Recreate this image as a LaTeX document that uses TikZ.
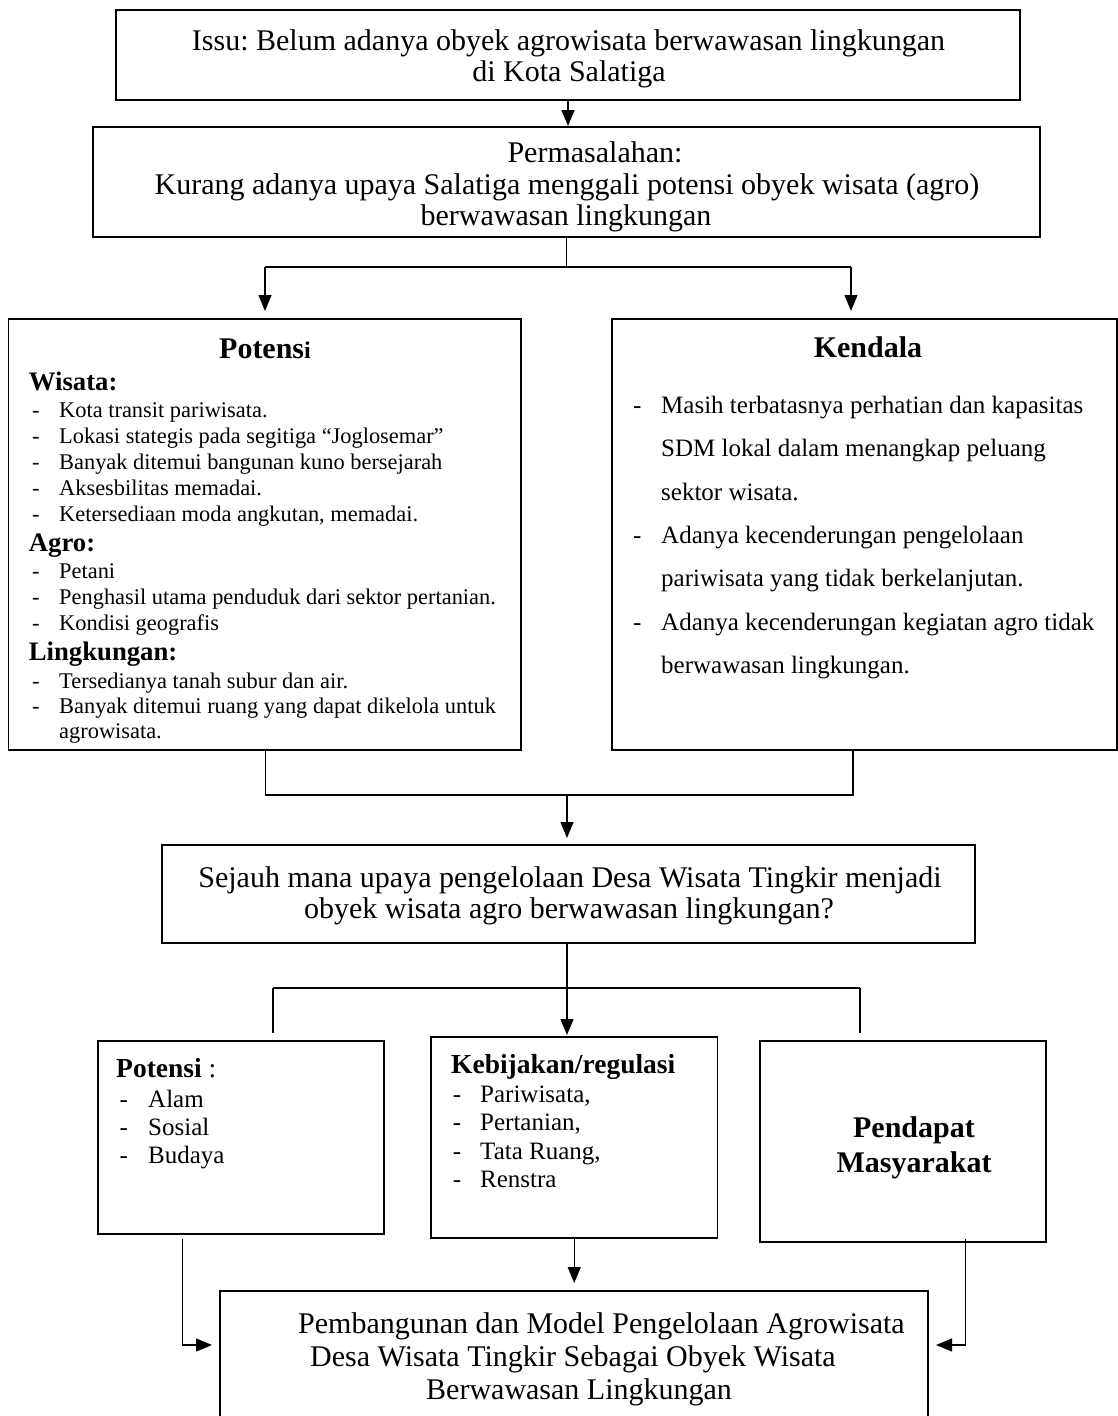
\documentclass[tikz,border=0pt]{standalone}
\usepackage{fontspec}
\setmainfont{Liberation Serif}
\usetikzlibrary{arrows.meta}
\newcommand\fs[1]{\fontsize{#1}{#1}\selectfont}
\frenchspacing
\begin{document}
\begin{tikzpicture}[x=1pt,y=-1pt,
  box/.style={draw, line width=1.8pt, inner sep=0pt, outer sep=0pt, anchor=north west},
  conn/.style={line width=1.2pt},
  arr/.style={line width=1.2pt, -{Triangle[length=16pt,width=13pt]}},
  t/.style={inner sep=0pt, anchor=base},
  tw/.style={inner sep=0pt, anchor=base west}]
\clip (0,0) rectangle (1118,1416);
\fill[white] (0,0) rectangle (1118,1416);

% boxes
\node[box, minimum width=904pt, minimum height=90pt] (issu) at (116,10) {};
\node[box, minimum width=947pt, minimum height=110pt] (masalah) at (93,127) {};
\node[box, minimum width=512.5pt, minimum height=431pt] (potensi) at (8.5,319) {};
\node[box, minimum width=505pt, minimum height=431pt] (kendala) at (612,319) {};
\node[box, minimum width=813pt, minimum height=98pt] (tanya) at (162,845) {};
\node[box, minimum width=286pt, minimum height=193pt] (pot2) at (98,1041) {};
\node[box, minimum width=286.5pt, minimum height=201pt] (kebijakan) at (431,1037) {};
\node[box, minimum width=286pt, minimum height=201pt] (pendapat) at (760,1041) {};
\node[box, minimum width=708pt, minimum height=160pt] (final) at (220,1291) {};

% texts: issu
\node[t] (issu1) at (568.5,50) {\fs{30}Issu: Belum adanya obyek agrowisata berwawasan lingkungan};
\node[t] (issu2) at (569,81) {\fs{30}di Kota Salatiga};
% masalah
\node[t] (mas1) at (595,162) {\fs{30}Permasalahan:};
\node[t] (mas2) at (567,194) {\fs{30}Kurang adanya upaya Salatiga menggali potensi obyek wisata (agro)};
\begin{scope}
\clip (masalah.north west) rectangle (masalah.south east);
\node[t] (mas3) at (566,225) {\fs{30}berwawasan lingkungan};
\end{scope}

% potensi big
\node[t] (potT) at (265,358) {\fs{30}\bfseries Potens{\fs{24}i}};
\node[tw] (wis) at (28.7,390) {\fs{26.7}\bfseries Wisata:};
\foreach \y/\s [count=\i] in {417/Kota transit pariwisata.,
  443/Lokasi stategis pada segitiga “Joglosemar”,
  469/Banyak ditemui bangunan kuno bersejarah,
  495/Aksesbilitas memadai.,
  521/{Ketersediaan moda angkutan, memadai.}}{
  \node[tw] (wd\i) at (32,\y) {\fs{22.4}-};
  \node[tw] (wi\i) at (59,\y) {\fs{22.4}\s};
}
\node[tw] (agr) at (28.7,551.7) {\fs{26.7}\bfseries Agro:};
\foreach \y/\s [count=\i] in {578/Petani,
  604/Penghasil utama penduduk dari sektor pertanian.,
  630/Kondisi geografis}{
  \node[tw] (ad\i) at (32,\y) {\fs{22.4}-};
  \node[tw] (ai\i) at (59,\y) {\fs{22.4}\s};
}
\node[tw] (lin) at (28.7,660) {\fs{26.7}\bfseries Lingkungan:};
\node[tw] (ld1) at (32,688) {\fs{22.4}-};
\node[tw] (li1) at (59,688) {\fs{22.4}Tersedianya tanah subur dan air.};
\node[tw] (ld2) at (32,713) {\fs{22.4}-};
\node[tw] (li2) at (59,713) {\fs{22.4}Banyak ditemui ruang yang dapat dikelola untuk};
\begin{scope}
\clip (potensi.north west) rectangle (potensi.south east);
\node[tw] (li3) at (59,738) {\fs{22.4}agrowisata.};
\end{scope}

% kendala
\node[t] (kenT) at (868,357) {\fs{30}\bfseries Kendala};
\node[tw] (kd1) at (633,413) {\fs{25}-};
\node[tw] (ki1) at (661,413) {\fs{25}Masih terbatasnya perhatian dan kapasitas};
\node[tw] (ki2) at (661,456.5) {\fs{25}SDM lokal dalam menangkap peluang};
\node[tw] (ki3) at (661,500) {\fs{25}sektor wisata.};
\node[tw] (kd2) at (633,543) {\fs{25}-};
\node[tw] (ki4) at (661,543) {\fs{25}Adanya kecenderungan pengelolaan};
\node[tw] (ki5) at (661,586.5) {\fs{25}pariwisata yang tidak berkelanjutan.};
\node[tw] (kd3) at (633,630) {\fs{25}-};
\node[tw] (ki6) at (661,630) {\fs{25}Adanya kecenderungan kegiatan agro tidak};
\node[tw] (ki7) at (661,673) {\fs{25}berwawasan lingkungan.};

% tanya
\node[t] (tan1) at (570,887) {\fs{30}Sejauh mana upaya pengelolaan Desa Wisata Tingkir menjadi};
\node[t] (tan2) at (569,918) {\fs{30}obyek wisata agro berwawasan lingkungan?};

% potensi small
\node[tw] (p2T) at (116,1077) {\fs{27.5}{\bfseries Potensi} :};
\foreach \y/\s [count=\i] in {1107/Alam,1135/Sosial,1163/Budaya}{
  \node[tw] (pd\i) at (119.5,\y) {\fs{25}-};
  \node[tw] (pi\i) at (148,\y) {\fs{25}\s};
}
% kebijakan
\node[tw] (kbT) at (451,1073) {\fs{27.5}\bfseries Kebijakan/regulasi};
\foreach \y/\s [count=\i] in {1102/{Pariwisata,},1130.5/{Pertanian,},1159/{Tata Ruang,},1187.5/Renstra}{
  \node[tw] (bd\i) at (452.6,\y) {\fs{25}-};
  \node[tw] (bi\i) at (480,\y) {\fs{25}\s};
}
% pendapat
\node[t] (pe1) at (914,1137) {\fs{30}\bfseries Pendapat};
\node[t] (pe2) at (914,1172) {\fs{30}\bfseries Masyarakat};
% final
\node[tw] (fi1) at (298,1333) {\fs{30}Pembangunan dan Model Pengelolaan Agrowisata};
\node[tw] (fi2) at (310,1366) {\fs{30}Desa Wisata Tingkir Sebagai Obyek Wisata};
\node[tw] (fi3) at (426,1399) {\fs{30}Berwawasan Lingkungan};

% connectors
\draw[arr, shorten >=1pt] (issu.south) -- (issu.south |- masalah.north);

\coordinate (jA) at (566.5,267);
\coordinate (jAL) at (265,267);
\coordinate (jAR) at (851,267);
\draw[conn] (masalah.south) -- (jA);
\draw[conn] (jAL) -- (jAR);
\draw[arr, shorten >=8pt] (jAL) -- (jAL |- potensi.north);
\draw[arr, shorten >=8pt] (jAR) -- (jAR |- kendala.north);

\coordinate (jB) at (567,795);
\coordinate (jBL) at (265.5,795);
\coordinate (jBR) at (853,795);
\draw[conn] (jBL |- potensi.south) -- (jBL) -- (jBR) -- (jBR |- kendala.south);
\draw[arr, shorten >=7pt] (jB) -- (jB |- tanya.north);

\coordinate (jC) at (567,988);
\coordinate (jCL) at (273,988);
\coordinate (jCR) at (860,988);
\draw[arr, shorten >=2pt] (jC |- tanya.south) -- (jC |- kebijakan.north);
\draw[conn] (jCL) -- (jCR);
\draw[conn, shorten >=8pt] (jCL) -- (jCL |- pot2.north);
\draw[conn, shorten >=8pt] (jCR) -- (jCR |- pendapat.north);

\draw[arr, shorten >=8pt] (kebijakan.south) -- (kebijakan.south |- final.north);

\coordinate (eL) at (182.5,1345);
\coordinate (eR) at (965.5,1345);
\draw[arr, shorten <=5pt, shorten >=8pt] (eL |- pot2.south) -- (eL) -- (eL -| final.west);
\draw[arr, shorten <=-3pt, shorten >=8pt] (eR |- pendapat.south) -- (eR) -- (eR -| final.east);
\end{tikzpicture}
\end{document}
